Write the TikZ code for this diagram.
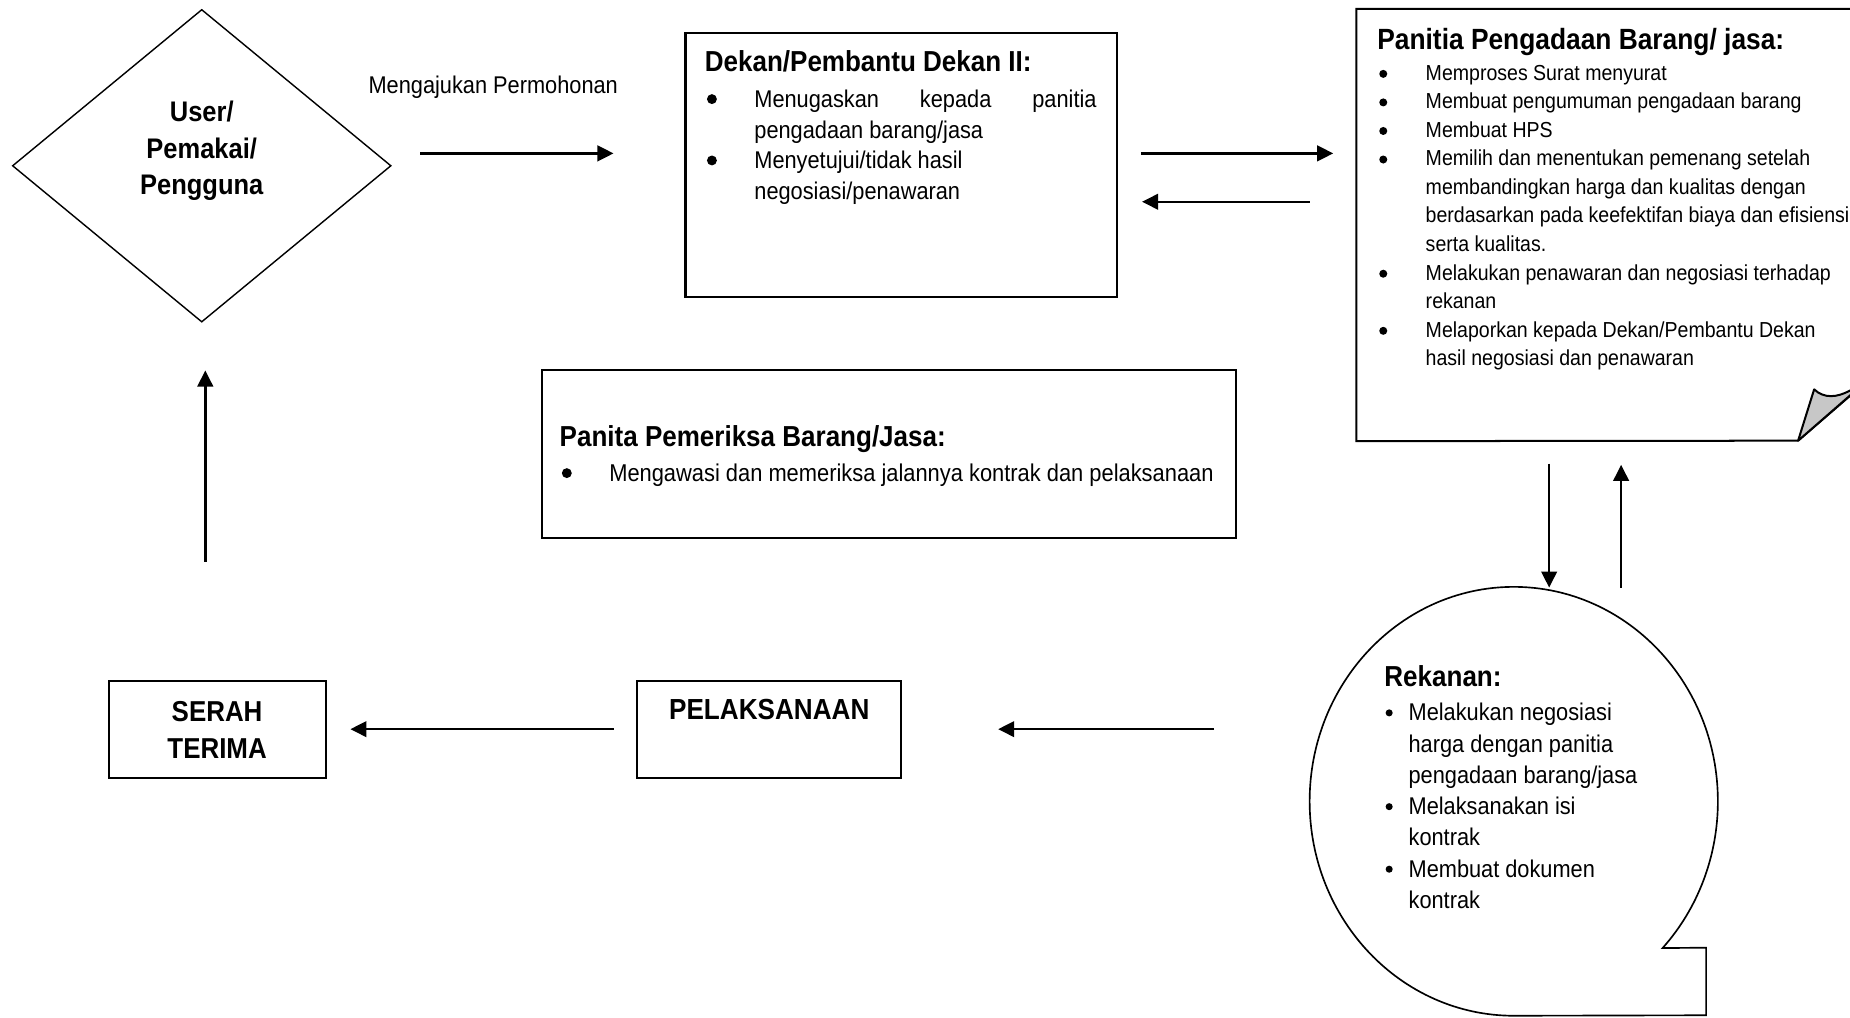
\documentclass[tikz,border=0pt]{standalone}
\usepackage{fontspec}
\setmainfont{Liberation Sans}[FakeStretch=0.9]
\usetikzlibrary{shapes.geometric,arrows.meta}

% bullet: box of width #1 whose left edge carries a dot of radius #2 raised by #3
\newcommand\bl[3]{\makebox[#1][l]{\makebox[0pt]{\tikz[baseline={(0pt,-#3)}]\fill (0pt,0pt) circle[radius=#2];}}}
\newcommand\dkb{\bl{18pt}{2.1pt}{3.5pt}}
\newcommand\dki{\hspace*{18pt}}
\newcommand\pnb{\bl{18pt}{1.7pt}{2.7pt}}
\newcommand\pni{\hspace*{18pt}}
\newcommand\rkb{\bl{8.25pt}{1.5pt}{3.4pt}}
\newcommand\rki{\hspace*{8.25pt}}

\tikzset{
  box/.style={draw, line width=0.85pt, inner sep=0pt},
  conn/.style={line width=1.05pt, -{Triangle[length=6.8pt,width=6.6pt]}},
  ttl/.style={anchor=base west, inner sep=0pt, font=\bfseries\fontsize{12.25pt}{15pt}\selectfont},
  ctitle/.style={anchor=base, inner sep=0pt},
  lst/.style={anchor=base west, inner sep=0pt},
}

\begin{document}
\begin{tikzpicture}[x=0.5pt,y=-0.5pt]
\useasboundingbox (0,0) rectangle (1568,862);
\fill[white] (0,0) rectangle (1568,862);
\clip (0,0) rectangle (1568,862);

% ---- User / Pemakai / Pengguna
\node[diamond, draw, line width=0.6pt, minimum width=160.5pt, minimum height=132.5pt, inner sep=0pt] (user) at (171,140.5) {};
\node[ctitle, font=\bfseries\fontsize{12pt}{15.5pt}\selectfont] (usertxt) at (171,103)
  {\begin{tabular}[t]{@{}c@{}}User/\\Pemakai/\\Pengguna\end{tabular}};

\node[lst, font=\fontsize{10.25pt}{13pt}\selectfont] (ajukan) at (312,79) {Mengajukan Permohonan};

% ---- Dekan / Pembantu Dekan II
\node[box, minimum width=183pt, minimum height=112pt] (dekan) at (764,140) {};
\node[ttl] (dekantt) at (597,60.8) {Dekan/Pembantu Dekan II:};
\node[lst, font=\fontsize{10.25pt}{13pt}\selectfont] (dekanls) at (603,91)
  {\begin{tabular}[t]{@{}l@{}}
   \dkb\makebox[145pt][s]{Menugaskan kepada panitia}\\
   \dki pengadaan barang/jasa\\
   \dkb Menyetujui/tidak hasil\\
   \dki negosiasi/penawaran
   \end{tabular}};

% ---- Panitia Pengadaan Barang/Jasa (folded sheet)
\node[inner sep=0pt, minimum width=225pt, minimum height=182.75pt] (pan) at (1375,190.75) {};
\draw[line width=0.85pt] (pan.north east) -- (pan.north west) -- (pan.south west)
  -- (1524,373.5) -- (1600,307.8);
\coordinate (foldA) at (1524,373.5);
\draw[line width=0.85pt, fill=black!22, line join=round] (foldA) -- (1537.6,330)
  .. controls (1546,338) and (1557,337) .. (1568,331) -- (1582,323) -- cycle;
\node[ttl, font=\bfseries\fontsize{12.4pt}{15pt}\selectfont] (pantt) at (1167,41.8) {Panitia Pengadaan Barang/ jasa:};
\node[lst, font=\fontsize{9.2pt}{12.1pt}\selectfont] (panls) at (1172,68)
  {\begin{tabular}[t]{@{}l@{}}
   \pnb Memproses Surat menyurat\\
   \pnb Membuat pengumuman pengadaan barang\\
   \pnb Membuat HPS\\
   \pnb Memilih dan menentukan pemenang setelah\\
   \pni membandingkan harga dan kualitas dengan\\
   \pni berdasarkan pada keefektifan biaya dan efisiensi\\
   \pni serta kualitas.\\
   \pnb Melakukan penawaran dan negosiasi terhadap\\
   \pni rekanan\\
   \pnb Melaporkan kepada Dekan/Pembantu Dekan\\
   \pni hasil negosiasi dan penawaran
   \end{tabular}};

% ---- Panita Pemeriksa Barang/Jasa
\node[box, minimum width=294.5pt, minimum height=71.2pt] (periksa) at (753.5,384.8) {};
\node[ttl] (periksatt) at (474,378.6) {Panita Pemeriksa Barang/Jasa:};
\node[lst, font=\fontsize{10.3pt}{13pt}\selectfont] (periksals) at (480,408)
  {\begin{tabular}[t]{@{}l@{}}\dkb Mengawasi dan memeriksa jalannya kontrak dan pelaksanaan\end{tabular}};

% ---- Rekanan (callout)
\node[ellipse, inner sep=0pt, minimum width=173pt, minimum height=181.75pt] (rek) at (1283,678.75) {};
\draw[line width=0.7pt] (rek.south) arc[start angle=90, end angle=403.2, x radius=173, y radius=181.75]
  -- (1446,803.2) -- (1446,860.5) -- cycle;
\node[ttl] (rektt) at (1173,581.6) {Rekanan:};
\node[lst, font=\fontsize{10.25pt}{13.25pt}\selectfont] (rekls) at (1177,611)
  {\begin{tabular}[t]{@{}l@{}}
   \rkb Melakukan negosiasi\\
   \rki harga dengan panitia\\
   \rki pengadaan barang/jasa\\
   \rkb Melaksanakan isi\\
   \rki kontrak\\
   \rkb Membuat dokumen\\
   \rki kontrak
   \end{tabular}};

% ---- Pelaksanaan and Serah Terima
\node[box, minimum width=112pt, minimum height=41pt] (pel) at (652,618) {};
\node[ctitle, font=\bfseries\fontsize{12.3pt}{15pt}\selectfont] (peltxt) at (652,610) {PELAKSANAAN};
\node[box, minimum width=92pt, minimum height=41pt] (serah) at (184,618) {};
\node[ctitle, font=\bfseries\fontsize{12.2pt}{15.5pt}\selectfont] (serahtxt) at (184,611.7)
  {\begin{tabular}[t]{@{}c@{}}SERAH\\TERIMA\end{tabular}};

% ---- connector end points
\coordinate (u2dS) at (356,130);  \coordinate (u2dE) at (520,130);
\coordinate (d2pS) at (967,130);  \coordinate (d2pE) at (1130,130);
\coordinate (p2dS) at (1110,171); \coordinate (p2dE) at (968,171);
\coordinate (p2rS) at (1313,393); \coordinate (p2rE) at (1313,498);
\coordinate (r2pS) at (1374,498); \coordinate (r2pE) at (1374,394);
\coordinate (r2lS) at (1029,618); \coordinate (r2lE) at (846,618);
\coordinate (l2sS) at (520,618);  \coordinate (l2sE) at (297,618);
\coordinate (s2uS) at (174,476);  \coordinate (s2uE) at (174,314);

\draw[conn] (u2dS) -- (u2dE);
\draw[conn] (d2pS) -- (d2pE);
\draw[conn] (p2dS) -- (p2dE);
\draw[conn] (p2rS) -- (p2rE);
\draw[conn] (r2pS) -- (r2pE);
\draw[conn] (r2lS) -- (r2lE);
\draw[conn] (l2sS) -- (l2sE);
\draw[conn] (s2uS) -- (s2uE);
\end{tikzpicture}
\end{document}
